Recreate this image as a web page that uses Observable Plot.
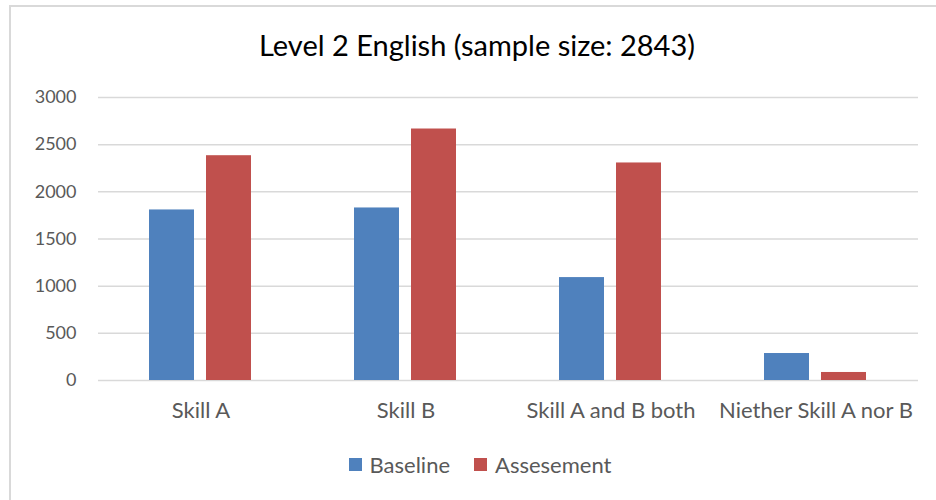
<!DOCTYPE html>
<html>
<head>
<meta charset="utf-8">
<script src="https://cdn.jsdelivr.net/npm/d3@7"></script>
<script src="https://cdn.jsdelivr.net/npm/@observablehq/plot@0.6"></script>
<style>
  html, body { margin: 0; padding: 0; background: #fff; }
  #wrap { position: relative; width: 936px; height: 500px; overflow: hidden; font-family: Lato, "Open Sans", sans-serif; }
  #frame { position: absolute; left: 9px; top: 5px; width: 960px; height: 520px; border-left: 2px solid #d9d9d9; border-top: 2px solid #d9d9d9; }
  #title { position: absolute; left: 9px; width: 936px; top: 27px; text-align: center; font-size: 29px; color: #000; }
  #chart { position: absolute; left: 0; top: 0; }
  #legend { position: absolute; left: 12px; width: 936px; top: 451px; display: flex; justify-content: center; align-items: center; font-size: 22px; color: #595959; }
  .sw { display: inline-block; width: 13px; height: 13px; margin-right: 8px; }
  .item { display: flex; align-items: center; margin: 0 12px; }
</style>
</head>
<body>
<div id="wrap">
  <div id="frame"></div>
  <div id="chart"></div>
  <div id="title"></div>
  <div id="legend"></div>
</div>
<script>
const titleText = "Level 2 English (sample size: 2843)";
const categories = ["Skill A", "Skill B", "Skill A and B both", "Niether Skill A nor B"];
const seriesNames = ["Baseline", "Assesement"];
const baseline = [1808, 1829, 1091, 286];
const assessment = [2383, 2666, 2306, 85];
const yTicks = [0, 500, 1000, 1500, 2000, 2500, 3000];
const colors = ["#4F81BD", "#C0504D"];

const data = [];
categories.forEach((c, i) => {
  data.push({category: c, series: seriesNames[0], value: baseline[i]});
  data.push({category: c, series: seriesNames[1], value: assessment[i]});
});

document.getElementById("title").textContent = titleText;

const chart = Plot.plot({
  width: 936,
  height: 440,
  marginLeft: 98,
  marginRight: 18,
  marginTop: 97,
  marginBottom: 60,
  style: {fontFamily: "Lato, 'Open Sans', sans-serif", fontSize: "18px", color: "#595959", background: "transparent"},
  fx: {domain: categories, paddingInner: 0, paddingOuter: 0, label: null},
  x: {domain: seriesNames, paddingInner: 0.207, paddingOuter: 0.871, axis: null},
  y: {domain: [0, 3000], label: null},
  color: {domain: seriesNames, range: colors},
  marks: [
    Plot.ruleY(yTicks, {stroke: "#d9d9d9", strokeWidth: 1.5, strokeOpacity: 1}),
    Plot.barY(data, {fx: "category", x: "series", y: "value", fill: "series"}),
    Plot.axisY({ticks: yTicks, tickFormat: d => String(d), tickSize: 0, tickPadding: 22, label: null, fill: "#595959", fontSize: 18}),
    Plot.axisFx({anchor: "bottom", tickSize: 0, tickPadding: 22, label: null, fill: "#595959", fontSize: 22})
  ]
});
document.getElementById("chart").appendChild(chart);

const legend = document.getElementById("legend");
seriesNames.forEach((s, i) => {
  const item = document.createElement("div");
  item.className = "item";
  const sw = document.createElement("span");
  sw.className = "sw";
  sw.style.background = colors[i];
  item.appendChild(sw);
  const t = document.createElement("span");
  t.textContent = s;
  item.appendChild(t);
  legend.appendChild(item);
});
</script>
</body>
</html>
